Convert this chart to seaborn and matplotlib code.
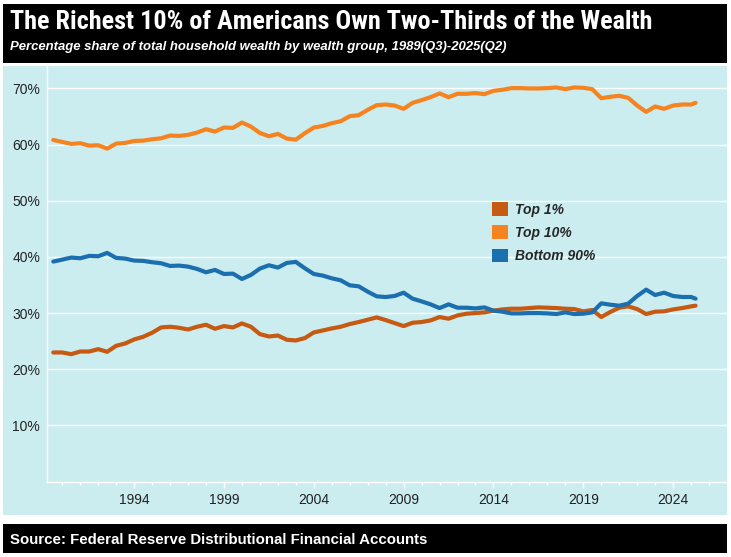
import numpy as np
import pandas as pd
import matplotlib
matplotlib.use("Agg")
import matplotlib.pyplot as plt
import matplotlib.font_manager as fm
import seaborn as sns
from matplotlib.patches import Rectangle, Patch
from matplotlib.ticker import MultipleLocator, FixedLocator, FuncFormatter

# ---------------- data (half-year samples) ----------------
years = list(np.arange(1989.5, 2025.01, 0.5)) + [2025.25]

top1 = [22.98, 22.98, 22.68, 23.15, 23.15, 23.57, 23.10, 24.17, 24.58, 25.30,
        25.77, 26.49, 27.44, 27.56, 27.38, 27.08, 27.56, 27.92, 27.20, 27.68,
        27.44, 28.15, 27.56, 26.25, 25.83, 26.00, 25.24, 25.12, 25.54, 26.55,
        26.90, 27.26, 27.56, 28.04, 28.40, 28.81, 29.23, 28.75, 28.21, 27.68,
        28.27, 28.40, 28.69, 29.29, 28.99, 29.58, 29.88, 30.00, 30.12, 30.42,
        30.65, 30.77, 30.77, 30.89, 31.01, 30.95, 30.89, 30.77, 30.71, 30.30,
        30.54, 29.29, 30.18, 30.95, 31.19, 30.71, 29.82, 30.24, 30.30, 30.65,
        30.89, 31.19, 31.31]

top10 = [60.83, 60.48, 60.12, 60.24, 59.82, 59.88, 59.29, 60.18, 60.30, 60.65,
         60.71, 60.95, 61.13, 61.61, 61.55, 61.73, 62.14, 62.74, 62.32, 63.04,
         62.98, 63.93, 63.21, 62.08, 61.49, 61.90, 61.07, 60.89, 62.02, 63.04,
         63.33, 63.81, 64.17, 65.06, 65.24, 66.19, 67.02, 67.14, 66.96, 66.37,
         67.44, 67.92, 68.45, 69.11, 68.45, 69.05, 69.05, 69.17, 68.99, 69.58,
         69.76, 70.06, 70.06, 70.00, 70.00, 70.06, 70.18, 69.88, 70.18, 70.12,
         69.88, 68.27, 68.51, 68.69, 68.33, 66.96, 65.83, 66.79, 66.37, 66.96,
         67.14, 67.14, 67.44]

bottom90 = [39.17, 39.52, 39.88, 39.76, 40.18, 40.12, 40.71, 39.82, 39.70, 39.35,
            39.29, 39.05, 38.87, 38.39, 38.45, 38.27, 37.86, 37.26, 37.68, 36.96,
            37.02, 36.07, 36.79, 37.92, 38.51, 38.10, 38.93, 39.11, 37.98, 36.96,
            36.67, 36.19, 35.83, 34.94, 34.76, 33.81, 32.98, 32.86, 33.04, 33.63,
            32.56, 32.08, 31.55, 30.89, 31.55, 30.95, 30.95, 30.83, 31.01, 30.42,
            30.24, 29.94, 29.94, 30.00, 30.00, 29.94, 29.82, 30.12, 29.82, 29.88,
            30.12, 31.73, 31.49, 31.31, 31.67, 33.04, 34.17, 33.21, 33.63, 33.04,
            32.86, 32.86, 32.56]

groups = ["Top 1%", "Top 10%", "Bottom 90%"]
palette = {"Top 1%": "#C65A12", "Top 10%": "#F5831F", "Bottom 90%": "#1C6FAE"}
y_ticks = [10, 20, 30, 40, 50, 60, 70]
x_ticks = [1994, 1999, 2004, 2009, 2014, 2019, 2024]

title = "The Richest 10% of Americans Own Two-Thirds of the Wealth"
subtitle = "Percentage share of total household wealth by wealth group, 1989(Q3)-2025(Q2)"
source = "Source: Federal Reserve Distributional Financial Accounts"

df = pd.DataFrame({
    "year": years * 3,
    "share": top1 + top10 + bottom90,
    "group": [g for g in groups for _ in years],
})

# ---------------- style ----------------
sns.set_theme(style="white")
plt.rcParams['font.family'] = ['Liberation Sans', 'DejaVu Sans']

installed = {f.name for f in fm.fontManager.ttflist}
narrow = "Liberation Sans"
for cand in ["Liberation Sans Narrow", "Roboto Condensed", "Open Sans Condensed",
             "DejaVu Sans Condensed", "Noto Sans Condensed"]:
    if cand in installed:
        narrow = cand
        break

W, H = 731, 557
fig = plt.figure(figsize=(W / 100, H / 100), dpi=100, facecolor="white")
cyan = "#CCEDF0"

def fx(px):
    return px / W

def fy(py):
    return 1 - py / H

# background bands
for (y_top, h, col) in [(63, 59, "black"), (515, 449, cyan), (553, 29, "black")]:
    fig.patches.append(Rectangle((fx(3), fy(y_top)), 724 / W, h / H,
                                 transform=fig.transFigure, facecolor=col,
                                 edgecolor="none", zorder=-10))

ax = fig.add_axes([fx(47), fy(481.5), 680 / W, (481.5 - 66) / H])
ax.set_zorder(2)
ax.set_facecolor(cyan)

sns.lineplot(data=df, x="year", y="share", hue="group", hue_order=groups,
             palette=palette, linewidth=3.0, errorbar=None, legend=False, ax=ax)

ax.set_xlim(1989.15, 2027.0)
ax.set_ylim(0, 74)
ax.set_xlabel("")
ax.set_ylabel("")

ax.yaxis.set_major_locator(FixedLocator(y_ticks))
ax.yaxis.set_major_formatter(FuncFormatter(lambda v, p: f"{int(v)}%"))
ax.xaxis.set_major_locator(FixedLocator(x_ticks))
ax.xaxis.set_minor_locator(MultipleLocator(1))
ax.xaxis.set_major_formatter(FuncFormatter(lambda v, p: f"{int(v)}"))

ax.yaxis.grid(True, color="white", linewidth=1.0)
ax.xaxis.grid(False)
ax.set_axisbelow(True)

for s in ["top", "right"]:
    ax.spines[s].set_visible(False)
for s in ["left", "bottom"]:
    ax.spines[s].set_color("white")
    ax.spines[s].set_linewidth(1.0)

ax.tick_params(axis="y", length=0, pad=5, labelsize=10, labelcolor="#222222")
ax.tick_params(axis="x", which="major", length=4, width=1, color="white", pad=4,
               labelsize=10, labelcolor="#222222", bottom=True)
ax.tick_params(axis="x", which="minor", length=2, width=1, color="white", bottom=True)

handles = [Patch(facecolor=palette[g], edgecolor="none", label=g) for g in groups]
ax.legend(handles=handles, loc="upper left", bbox_to_anchor=(0.654, 0.672),
          frameon=False, borderpad=0, borderaxespad=0, handlelength=1.15,
          handleheight=1.15, handletextpad=0.5, labelspacing=0.62,
          prop={"weight": "bold", "style": "italic", "size": 10})

# texts
t1 = fig.text(fx(10), fy(29), title, color="white", fontweight="bold", fontsize=16,
              family=[narrow, "Liberation Sans", "DejaVu Sans"], ha="left", va="baseline")
t2 = fig.text(fx(10), fy(50), subtitle, color="white", fontweight="bold", style="italic",
              fontsize=11, ha="left", va="baseline")
t3 = fig.text(fx(10), fy(544), source, color="white", fontweight="bold", fontsize=11,
              ha="left", va="baseline")

fig.canvas.draw()
r = fig.canvas.get_renderer()
for t, target in [(t1, 645), (t2, 497), (t3, 418)]:
    w = t.get_window_extent(r).width
    t.set_fontsize(t.get_fontsize() * target / w)

fig.savefig("out.png", dpi=100, facecolor="white")
